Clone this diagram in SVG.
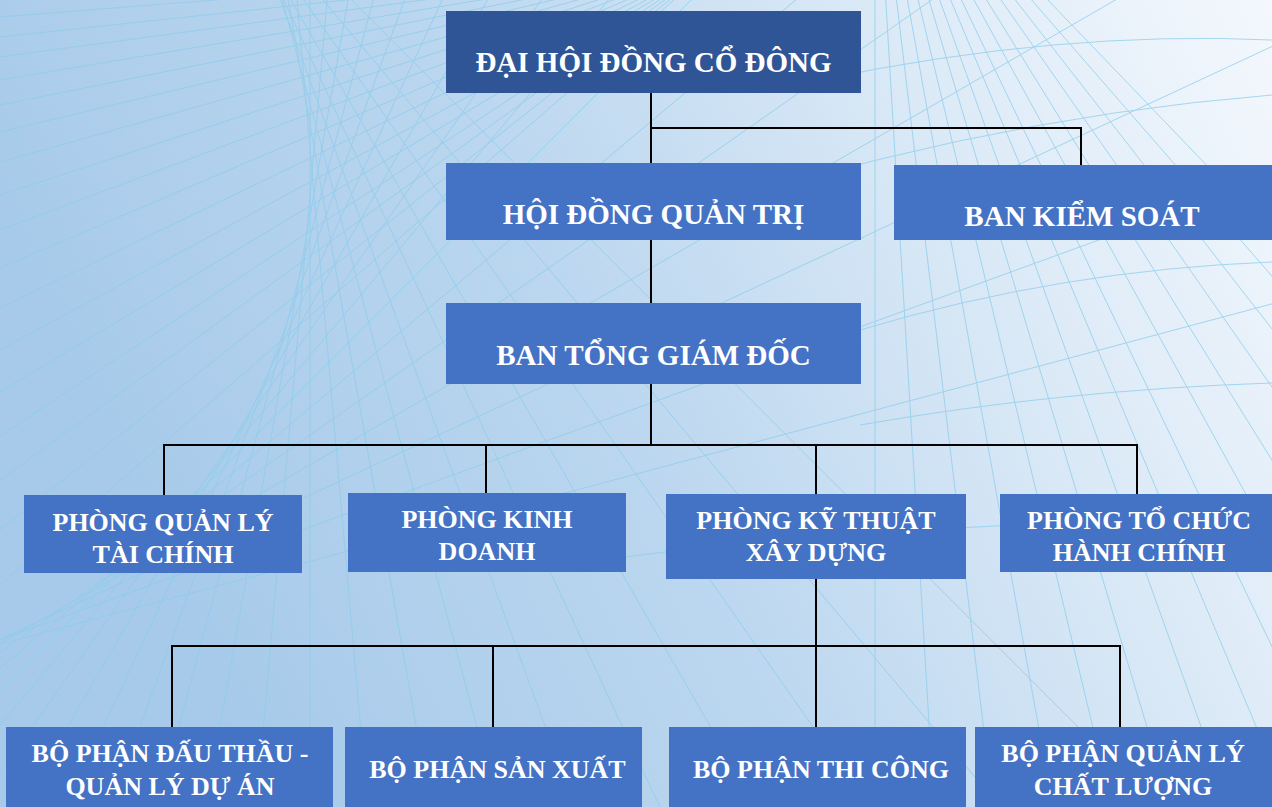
<svg xmlns="http://www.w3.org/2000/svg" width="1272" height="807" viewBox="0 0 1272 807">
<defs>
<linearGradient id="bg" x1="0" y1="0.3" x2="1" y2="0">
<stop offset="0" stop-color="#a7caea"/>
<stop offset="0.4" stop-color="#bcd7ef"/>
<stop offset="0.72" stop-color="#dceaf7"/>
<stop offset="1" stop-color="#f4f8fd"/>
</linearGradient>
<style>
.mesh{fill:none;stroke:#8ccdec;stroke-width:1;opacity:0.75}
.box{fill:#4472c4}
.top{fill:#2f5597}
.t{font-family:"Liberation Serif","Times New Roman",serif;font-weight:bold;fill:#ffffff;text-anchor:middle}
.t1{font-size:29px}
.t2{font-size:26px}
.c{fill:none;stroke:#000;stroke-width:2}
</style>
</defs>
<rect x="0" y="0" width="1272" height="807" fill="url(#bg)"/>
<g id="background-mesh" class="mesh">
<path d="M0,17 L720,-40 M0,37 L720,-40 M0,57 L720,-40 M0,80 L720,-40 M0,105 L720,-40 M0,132 L720,-40 M0,162 L720,-40 M0,195 L720,-40 M0,230 L720,-40 M0,268 L720,-40 M0,308 L720,-40 M0,350 L720,-40 M0,392 L720,-40 M0,436 L720,-40 M0,480 L720,-40 M0,530 L720,-40 M0,585 L720,-40"/>
<path d="M-546,-898 L1292,941 M-452,-924 L1219,1068 M-356,-942 L1136,1188 M-258,-951 L792,868 M-160,-952 L685,861 M-63,-944 L621,935 M34,-928 L551,1004 M129,-903 L476,1066 M221,-871 L395,1122 M310,-830 L310,1170 M448,-1379 L221,1211 M476,-726 L129,1243 M551,-664 L34,1268 M621,-595 L-63,1284 M685,-521 L-160,1292 M742,-441 L-258,1291 M791,-357 L-356,1282 M1219,-728 L-452,1264 M1292,-601 L-547,1238 M1353,-468 L-638,1204 M1403,-330 L-727,1161 M1441,-188 L-811,1112 M1466,-44 L-891,1055 M1478,102 L-965,991 M1477,249 L-1034,921"/>
<path d="M875,-180 L875,807 M875,-180 L934,807 M875,-180 L993,807 M875,-180 L1053,807 M875,-180 L1112,807 M875,-180 L1171,807 M875,-180 L1230,807 M875,-180 L1290,807 M875,-180 L1349,807 M875,-180 L1418,807 M875,-180 L1487,807 M875,-180 L1566,807 M875,-180 L1645,807 M875,-180 L1734,807 M875,-180 L1823,807"/>
<path d="M860,330 Q1060,270 1272,262 M860,425 Q1060,390 1272,383 M640,230 Q960,120 1272,95 M820,80 Q1060,30 1272,40 M600,560 Q900,520 1272,520"/>
</g>
<g id="connectors">
<path class="c" d="M651,93 V163"/>
<path class="c" d="M651,128 H1081 V165"/>
<path class="c" d="M651,240 V303"/>
<path class="c" d="M651,384 V445"/>
<path class="c" d="M164,495 V445 H1137 V494"/>
<path class="c" d="M486,445 V493"/>
<path class="c" d="M816,445 V494"/>
<path class="c" d="M816,579 V727"/>
<path class="c" d="M172,727 V646 H1120 V727"/>
<path class="c" d="M493,646 V727"/>
</g>
<g id="dai-hoi-dong-co-dong">
<rect class="top" x="446" y="11" width="415" height="82"/>
<text class="t t1" x="653.5" y="72">ĐẠI HỘI ĐỒNG CỔ ĐÔNG</text>
</g>
<g id="hoi-dong-quan-tri">
<rect class="box" x="446" y="163" width="415" height="77"/>
<text class="t t1" x="653.5" y="224">HỘI ĐỒNG QUẢN TRỊ</text>
</g>
<g id="ban-kiem-soat">
<rect class="box" x="894" y="165" width="378" height="75"/>
<text class="t t1" x="1082" y="226">BAN KIỂM SOÁT</text>
</g>
<g id="ban-tong-giam-doc">
<rect class="box" x="446" y="303" width="415" height="81"/>
<text class="t t1" x="653.5" y="365">BAN TỔNG GIÁM ĐỐC</text>
</g>
<g id="phong-quan-ly-tai-chinh">
<rect class="box" x="24" y="495" width="278" height="78"/>
<text class="t t2" x="163" y="531">PHÒNG QUẢN LÝ<tspan x="163" y="563">TÀI CHÍNH</tspan></text>
</g>
<g id="phong-kinh-doanh">
<rect class="box" x="348" y="493" width="278" height="79"/>
<text class="t t2" x="487" y="528">PHÒNG KINH<tspan x="487" y="560">DOANH</tspan></text>
</g>
<g id="phong-ky-thuat-xay-dung">
<rect class="box" x="666" y="494" width="300" height="85"/>
<text class="t t2" x="816" y="529">PHÒNG KỸ THUẬT<tspan x="816" y="561">XÂY DỰNG</tspan></text>
</g>
<g id="phong-to-chuc-hanh-chinh">
<rect class="box" x="1000" y="494" width="272" height="78"/>
<text class="t t2" x="1139" y="529">PHÒNG TỔ CHỨC<tspan x="1139" y="561">HÀNH CHÍNH</tspan></text>
</g>
<g id="bo-phan-dau-thau">
<rect class="box" x="6" y="727" width="327" height="80"/>
<text class="t t2" x="170" y="762">BỘ PHẬN ĐẤU THẦU -<tspan x="170" y="795">QUẢN LÝ DỰ ÁN</tspan></text>
</g>
<g id="bo-phan-san-xuat">
<rect class="box" x="345" y="727" width="297" height="80"/>
<text class="t t2" x="497.5" y="778">BỘ PHẬN SẢN XUẤT</text>
</g>
<g id="bo-phan-thi-cong">
<rect class="box" x="669" y="727" width="297" height="80"/>
<text class="t t2" x="821" y="778">BỘ PHẬN THI CÔNG</text>
</g>
<g id="bo-phan-quan-ly-chat-luong">
<rect class="box" x="975" y="727" width="297" height="80"/>
<text class="t t2" x="1123" y="762">BỘ PHẬN QUẢN LÝ<tspan x="1123" y="795">CHẤT LƯỢNG</tspan></text>
</g>
</svg>
